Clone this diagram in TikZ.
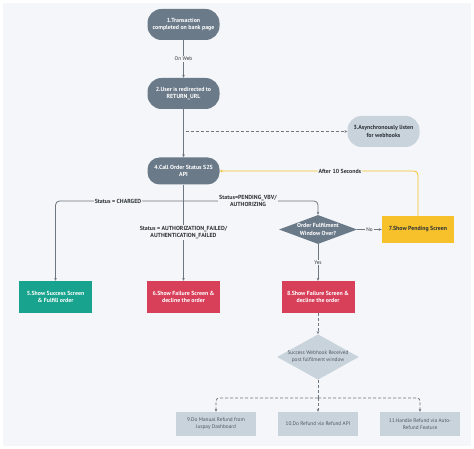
\documentclass[tikz,border=0pt]{standalone}
\usepackage{fontspec}
\setmainfont{PT Sans}
\usetikzlibrary{shapes.geometric,arrows.meta}
\definecolor{panel}{HTML}{F4F6F9}
\definecolor{slate}{HTML}{6B7A89}
\definecolor{lightnode}{HTML}{C9D3DC}
\definecolor{lineg}{HTML}{6E767F}
\definecolor{ylw}{HTML}{F6C12A}
\definecolor{teal}{HTML}{17A38D}
\definecolor{redn}{HTML}{D8405A}
\definecolor{darktxt}{HTML}{2E3338}
\definecolor{greytxt}{HTML}{4F5660}
\begin{document}
\begin{tikzpicture}[x=1bp,y=-1bp,
  bold/.style={font=\bfseries\fontsize{5.9}{7.6}\selectfont},
  small/.style={font=\fontsize{5.3}{6.8}\selectfont},
  pill/.style={bold, rectangle, rounded corners=14bp, minimum width=72bp, minimum height=31bp, inner sep=1bp, align=center, fill=slate, text=white},
  boxn/.style={bold, rectangle, minimum width=73bp, minimum height=32bp, inner sep=1bp, align=center, text=white},
  refund/.style={small, rectangle, minimum width=80bp, minimum height=24bp, inner sep=1bp, align=center, fill=lightnode, text=greytxt},
  dia/.style={diamond, inner sep=0pt, align=center, minimum width=78bp},
  lbl/.style={bold, fill=panel, text=darktxt, inner sep=1bp, align=center},
  lblr/.style={small, fill=panel, text=darktxt, inner sep=1bp},
  conn/.style={draw=lineg, line width=0.8bp},
  arr/.style={conn, -{Stealth[length=3bp,width=2.6bp]}},
  dsh/.style={dash pattern=on 3bp off 2bp}
]
\useasboundingbox (0,0) rectangle (474,449);
\fill[white] (0,0) rectangle (474,449);
\fill[panel] (3,3) rectangle (471,446);

% nodes
\node[pill] (n1) at (183.5,24.5) {1.Transaction\\completed on bank page};
\node[pill] (n2) at (183.5,93.5) {2.User is redirected to\\RETURN\_URL};
\node[pill, fill=lightnode, text=darktxt] (n3) at (383.5,131.5) {3.Asynchronously listen\\for webhooks};
\node[pill, minimum height=27bp, rounded corners=12bp] (n4) at (183.5,171) {4.Call Order Status S2S\\API};
\node[boxn, fill=teal] (n5) at (55.5,297) {5.Show Success Screen\\\& Fulfill order};
\node[boxn, fill=redn] (n6) at (183.5,297) {6.Show Failure Screen \&\\decline the order};
\node[boxn, fill=ylw, text=darktxt, minimum width=72bp, minimum height=27bp] (n7) at (418,229.5) {7.Show Pending Screen};
\node[dia, bold, fill=slate, text=white, minimum height=29bp, aspect=2.7] (d1) at (318,229.5) {Order Fulfilment\\Window Over?};
\node[boxn, fill=redn] (n8) at (318,297) {8.Show Failure Screen \&\\decline the order};
\node[dia, small, fill=lightnode, text=greytxt, minimum height=43bp, aspect=1.8] (d2) at (318,357) {Success Webhook Received\\post fulfilment window};
\node[refund] (b9) at (216,424) {9.Do Manual Refund from\\Juspay Dashboard};
\node[refund] (b10) at (318,424) {10.Do Refund via Refund API};
\node[refund] (b11) at (420,424) {11.Handle Refund via Auto-\\Refund Feature};

% connectors
\draw[arr] (n1) -- node[lblr]{On Web} (n2);
\draw[arr] (n2) -- (n4);
\coordinate (d3) at (185.5,131.5);
\draw[arr, dsh] (d3) -- (n3.west);
\draw[conn, draw=ylw, -{Stealth[length=3bp,width=2.6bp]}, rounded corners=4bp] (n7.north) |- node[lbl, pos=0.697]{After 10 Seconds} (n4.east);

\coordinate (sp) at (183.5,201);
\draw[arr] (n4) -- node[lbl, pos=0.5]{Status = AUTHORIZATION\_FAILED/\\AUTHENTICATION\_FAILED} (n6);
\draw[arr, rounded corners=4bp] (sp) -| node[lbl, pos=0.256]{Status = CHARGED} (n5.north);
\draw[arr, rounded corners=4bp] (sp) -| node[lbl, pos=0.24]{Status=PENDING\_VBV/\\AUTHORIZING} (d1.north);

\draw[arr] (d1.east) -- node[lblr]{No} (n7.west);
\draw[arr] (d1.south) -- node[lblr]{Yes} (n8.north);
\draw[arr, dsh] (n8) -- (d2);

\coordinate (sp2) at (318,398);
\draw[conn, dsh] (d2.south) -- (sp2);
\draw[arr, dsh, rounded corners=3bp] (sp2) -| (b9.north);
\draw[arr, dsh] (sp2) -- (b10.north);
\draw[arr, dsh, rounded corners=3bp] (sp2) -| (b11.north);
\end{tikzpicture}
\end{document}
